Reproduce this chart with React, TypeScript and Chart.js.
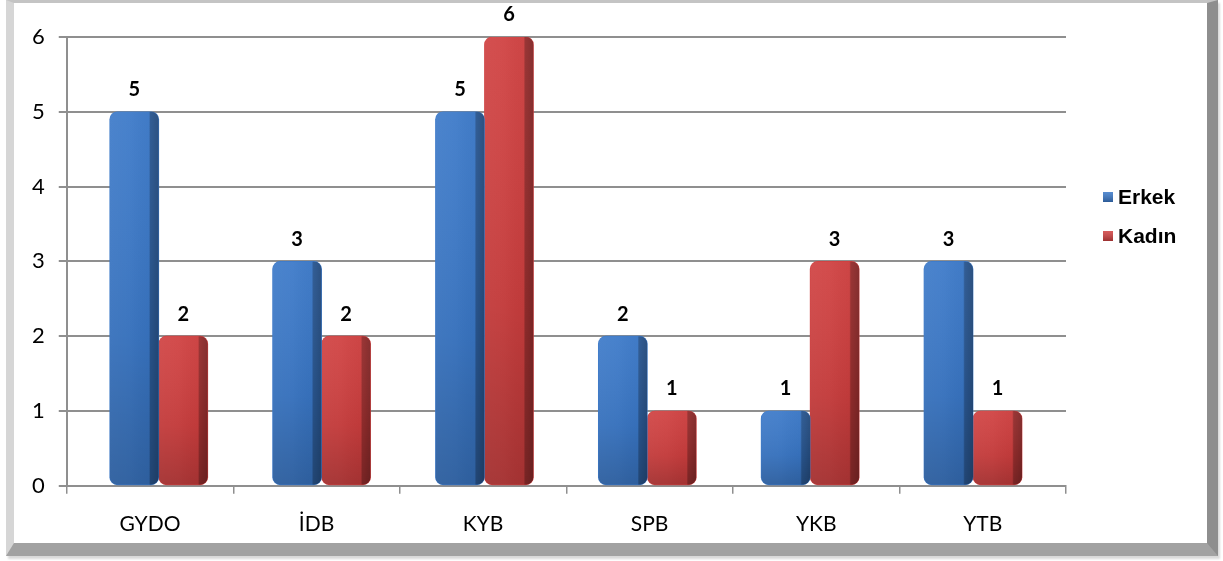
import React, { useEffect, useRef } from "react";
import { Chart, registerables } from "chart.js";

Chart.register(...registerables);

const categories = ["GYDO", "İDB", "KYB", "SPB", "YKB", "YTB"];
const erkek = [5, 3, 5, 2, 1, 3];
const kadin = [2, 2, 6, 1, 3, 1];
const seriesNames = ["Erkek", "Kadın"];
const yTicks = [0, 1, 2, 3, 4, 5, 6];

const BLUE = "#3a78c8";
const RED = "#cf3f3f";

const toPoints = (arr: number[]) => arr.map((v, i) => ({ x: i, y: v }));

const shadePlugin = {
  id: "shade",
  afterDatasetsDraw(chart: any) {
    const ctx = chart.ctx;
    chart.data.datasets.forEach((ds: any, di: number) => {
      const meta = chart.getDatasetMeta(di);
      meta.data.forEach((bar: any) => {
        const left = bar.x - bar.width / 2;
        const right = bar.x + bar.width / 2;
        const top = bar.y;
        const bottom = bar.base;
        const h = bottom - top;
        const r = 8;
        ctx.save();
        ctx.beginPath();
        ctx.roundRect(left, top, right - left, h, r);
        ctx.clip();
        const hg = ctx.createLinearGradient(left, 0, right, 0);
        hg.addColorStop(0, "rgba(255,255,255,0.05)");
        hg.addColorStop(0.4, "rgba(255,255,255,0.03)");
        hg.addColorStop(0.8, "rgba(0,0,0,0.02)");
        hg.addColorStop(0.83, "rgba(0,0,0,0.28)");
        hg.addColorStop(1, "rgba(0,0,0,0.38)");
        ctx.fillStyle = hg;
        ctx.fillRect(left, top, right - left, h);
        const vg = ctx.createLinearGradient(0, top, 0, bottom);
        vg.addColorStop(0, "rgba(255,255,255,0.04)");
        vg.addColorStop(0.6, "rgba(0,0,0,0.06)");
        vg.addColorStop(1, "rgba(0,0,0,0.2)");
        ctx.fillStyle = vg;
        ctx.fillRect(left, top, right - left, h);
        ctx.restore();
      });
    });
  },
};

const labelPlugin = {
  id: "valueLabels",
  afterDatasetsDraw(chart: any) {
    const ctx = chart.ctx;
    ctx.save();
    ctx.font = "bold 20px Lato";
    ctx.fillStyle = "#000";
    ctx.textAlign = "center";
    ctx.textBaseline = "middle";
    chart.data.datasets.forEach((ds: any, di: number) => {
      const meta = chart.getDatasetMeta(di);
      meta.data.forEach((bar: any, i: number) => {
        ctx.fillText(String(ds.data[i].y), bar.x, bar.y - 22);
      });
    });
    ctx.restore();
  },
};

const legendPlugin = {
  id: "sideLegend",
  afterDraw(chart: any) {
    const ctx = chart.ctx;
    const x0 = chart.chartArea.right + 37;
    const yc = [194, 233];
    ctx.save();
    ctx.font = "bold 21px 'Liberation Sans'";
    ctx.textBaseline = "middle";
    ctx.textAlign = "left";
    chart.data.datasets.forEach((ds: any, di: number) => {
      const y = yc[di];
      ctx.fillStyle = ds.backgroundColor;
      ctx.fillRect(x0, y - 5, 10, 10);
      const g = ctx.createLinearGradient(0, y - 5, 0, y + 5);
      g.addColorStop(0, "rgba(255,255,255,0.15)");
      g.addColorStop(1, "rgba(0,0,0,0.25)");
      ctx.fillStyle = g;
      ctx.fillRect(x0, y - 5, 10, 10);
      ctx.fillStyle = "#000";
      ctx.fillText(ds.label, x0 + 15, y + 1);
    });
    ctx.restore();
  },
};

export default function App() {
  const ref = useRef<HTMLCanvasElement>(null);
  useEffect(() => {
    const chart = new Chart(ref.current!, {
      type: "bar",
      data: {
        labels: categories,
        datasets: [
          { label: seriesNames[0], data: toPoints(erkek), backgroundColor: BLUE, xAxisID: "xb" },
          { label: seriesNames[1], data: toPoints(kadin), backgroundColor: RED, xAxisID: "xb" },
        ],
      },
      options: {
        animation: false,
        responsive: false,
        devicePixelRatio: 1,
        layout: { padding: { left: 4, right: 141, top: 34, bottom: -12 } },
        datasets: {
          bar: {
            barThickness: 49,
            borderRadius: 8,
            borderSkipped: false,
          },
        },
        plugins: {
          legend: { display: false },
          tooltip: { enabled: false },
        },
        scales: {
          xb: {
            type: "linear",
            display: false,
            min: -0.565,
            max: 5.571,
            offset: false,
          },
          x: {
            type: "category",
            labels: categories,
            grid: {
              display: true,
              drawOnChartArea: false,
              drawTicks: true,
              tickLength: 8,
              color: "#8f8f8f",
              lineWidth: 1.5,
            },
            border: { display: true, color: "#8f8f8f", width: 2 },
            ticks: {
              color: "#000",
              font: { family: "Lato", size: 21 },
              padding: 18,
            },
          },
          y: {
            min: 0,
            max: 6,
            afterBuildTicks(axis: any) {
              axis.ticks = yTicks.map((v) => ({ value: v }));
            },
            grid: {
              color: "#8f8f8f",
              lineWidth: 2,
              tickLength: 8,
            },
            border: { display: true, color: "#8f8f8f", width: 2 },
            ticks: {
              color: "#000",
              font: { family: "Lato", size: 22 },
              padding: 14,
              stepSize: 1,
            },
          },
        },
      } as any,
      plugins: [shadePlugin, labelPlugin, legendPlugin],
    });
    return () => chart.destroy();
  }, []);

  return (
    <div>
      <div
        style={{
          position: "absolute",
          left: 6,
          top: 0,
          width: 1193,
          height: 540,
          background: "#fff",
          borderLeft: "8px solid #d6d6d6",
          borderTop: "3px solid #c4c4c4",
          borderRight: "11px solid #8e8e8e",
          borderBottom: "13px solid #a2a2a2",
          boxShadow: "2px 3px 2px rgba(0,0,0,0.15)",
        }}
      >
        <canvas
          ref={ref}
          width={1193}
          height={540}
          style={{ display: "block", width: 1193, height: 540 }}
        />
      </div>
    </div>
  );
}
